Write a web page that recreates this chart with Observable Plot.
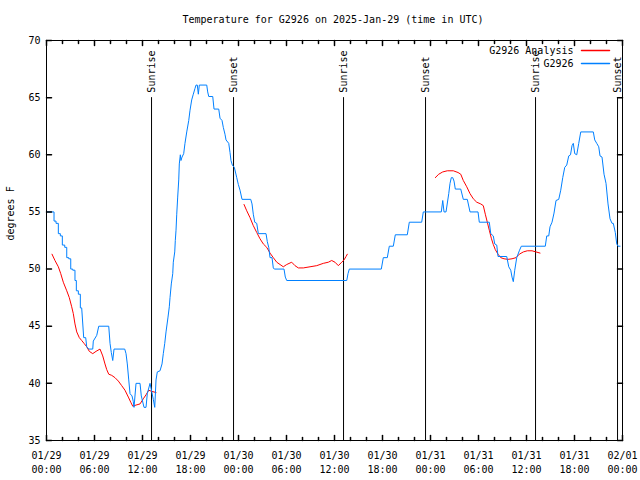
<!DOCTYPE html>
<html><head><meta charset="utf-8">
<script src="https://cdn.jsdelivr.net/npm/d3@7"></script>
<script src="https://cdn.jsdelivr.net/npm/@observablehq/plot@0.6"></script>
<style>body{margin:0;background:#fff} svg{display:block}</style>
</head><body><div id="chart"></div>
<script>
const title = "Temperature for G2926 on 2025-Jan-29 (time in UTC)";
const yLabel = "degrees F";
const seriesNames = ["G2926 Analysis", "G2926"];
const seriesColors = ["#ff0000", "#0080ff"];
const startUTC = Date.UTC(2025, 0, 29);

// [hours since 01/29 00:00 UTC, degrees F]
const station = [[0,55.0],[0.94,55.0],[0.94,54.2],[1.19,54.2],[1.19,54.0],[1.48,54.0],[1.48,53.1],[1.73,53.1],[1.73,52.9],[1.98,52.9],[1.98,52.1],[2.28,52.1],[2.28,51.9],[2.53,51.9],[2.53,51.0],[2.78,51.0],[2.78,50.9],[3.03,50.9],[3.03,50.0],[3.28,50.0],[3.28,49.9],[3.56,49.9],[3.56,49.0],[3.73,49.0],[3.73,48.1],[3.98,48.1],[3.98,47.8],[4.23,47.8],[4.23,46.6],[4.4,46.6],[4.65,44.0],[4.9,44.0],[5.03,43.2],[5.28,43.0],[5.78,43.0],[5.85,43.7],[6.28,44.2],[6.53,45.0],[7.78,45.0],[7.94,43.5],[8.1,42.7],[8.28,42.0],[8.44,43.0],[9.78,43.0],[9.94,42.6],[10.1,41.7],[10.28,40.3],[10.44,39.1],[10.69,38.9],[10.85,38.4],[10.94,37.9],[11.19,40.0],[11.69,40.0],[11.85,38.9],[12.19,37.9],[12.44,37.9],[12.6,39.1],[12.94,40.0],[13.35,38.6],[13.53,37.9],[13.69,40.3],[13.85,41.0],[14.19,41.1],[14.44,41.7],[14.6,42.6],[14.78,43.5],[14.94,44.5],[15.19,45.8],[15.35,46.7],[15.44,47.5],[15.6,48.7],[15.78,49.6],[15.85,50.6],[16.03,51.5],[16.1,52.5],[16.19,53.4],[16.28,54.8],[16.4,56.3],[16.53,57.8],[16.6,59.2],[16.73,60.0],[16.81,59.5],[16.94,59.8],[17.15,60.1],[17.31,61.0],[17.53,62.0],[17.78,63.0],[17.94,63.9],[18.15,64.8],[18.35,65.3],[18.56,65.8],[18.69,66.1],[18.85,66.1],[18.98,65.3],[19.1,66.1],[20.03,66.1],[20.15,65.5],[20.28,65.1],[20.78,65.1],[20.94,64.0],[21.53,64.0],[21.69,63.2],[21.94,63.0],[22.1,62.4],[22.31,61.8],[22.44,61.3],[22.78,61.0],[22.94,60.2],[23.06,59.5],[23.23,59.1],[23.48,58.9],[23.78,58.0],[23.98,57.4],[24.19,56.9],[24.44,56.1],[25.53,56.1],[25.69,55.7],[25.85,54.8],[26.03,54.1],[26.28,54.0],[26.48,53.1],[27.44,53.1],[27.6,52.4],[27.78,51.9],[27.94,51.0],[28.19,51.0],[28.35,50.1],[28.48,50.0],[29.69,50.0],[29.85,49.3],[30.03,49.0],[37.53,49.0],[37.69,49.6],[37.85,50.0],[41.85,50.0],[42.1,51.0],[42.6,51.0],[42.85,52.0],[43.35,52.0],[43.6,53.0],[45.1,53.0],[45.35,54.1],[46.9,54.1],[47.1,55.0],[49.35,55.0],[49.53,56.0],[49.69,55.0],[49.94,55.0],[50.28,56.6],[50.44,57.5],[50.6,58.0],[50.78,58.0],[50.94,57.7],[51.1,57.0],[51.78,57.0],[52.1,56.1],[52.6,56.1],[52.94,55.0],[53.94,55.0],[54.1,54.1],[55.35,54.1],[55.53,53.1],[55.85,52.9],[56.03,52.2],[56.28,52.1],[56.44,51.1],[57.53,51.1],[57.78,50.2],[58.03,49.9],[58.19,49.3],[58.35,48.9],[58.53,49.9],[58.78,51.0],[59.1,51.6],[59.35,52.0],[62.35,52.0],[62.53,52.9],[62.78,52.9],[62.94,53.7],[63.19,54.1],[63.44,54.9],[63.69,56.0],[64.03,56.1],[64.28,56.9],[64.53,58.0],[64.78,58.9],[65.03,59.1],[65.28,59.9],[65.5,60.0],[65.69,60.8],[65.85,61.0],[66.03,60.1],[66.28,60.0],[66.53,61.0],[66.78,62.0],[68.35,62.0],[68.53,61.3],[68.78,61.0],[69.03,60.7],[69.19,59.9],[69.44,59.8],[69.69,58.3],[69.94,57.5],[70.19,55.7],[70.44,54.4],[70.69,54.0],[70.85,54.0],[71.1,53.2],[71.28,52.2],[71.44,52.0],[71.69,52.0]];

const analysis1 = [[0.69,51.3],[1.06,50.75],[1.48,50.2],[1.78,49.6],[2.1,48.85],[2.53,48.1],[2.85,47.5],[3.15,46.7],[3.35,46.1],[3.56,45.2],[3.78,44.5],[4.1,44.0],[4.4,43.75],[4.69,43.5],[5.03,43.2],[5.35,42.8],[5.78,42.6],[6.19,42.8],[6.69,43.0],[7.03,42.4],[7.31,41.7],[7.53,41.2],[7.78,40.8],[8.15,40.7],[8.56,40.5],[8.98,40.2],[9.4,39.8],[9.81,39.4],[10.23,38.8],[10.53,38.35],[10.78,38.0],[11.19,38.1],[11.69,38.2],[12.1,38.65],[12.44,39.0],[12.78,39.4],[13.15,39.3],[13.69,39.2]];
const analysis2 = [[24.69,55.65],[25.03,55.1],[25.44,54.5],[25.85,53.8],[26.28,53.2],[26.69,52.65],[27.1,52.2],[27.53,51.9],[27.94,51.4],[28.35,51.0],[28.78,50.6],[29.19,50.4],[29.6,50.2],[30.03,50.4],[30.65,50.6],[31.06,50.3],[31.48,50.1],[32.1,50.1],[32.94,50.2],[33.78,50.3],[34.6,50.5],[35.23,50.6],[35.65,50.75],[36.06,50.6],[36.48,50.3],[36.9,50.6],[37.19,50.8],[37.44,51.1],[37.6,51.3]];
const analysis3 = [[48.6,58.0],[49.03,58.3],[49.53,58.5],[50.1,58.6],[50.85,58.6],[51.44,58.45],[51.78,58.3],[52.1,57.75],[52.53,57.2],[52.94,56.6],[53.35,56.15],[53.78,55.85],[54.28,55.7],[54.6,55.55],[54.85,54.8],[55.1,54.1],[55.35,53.4],[55.6,52.7],[55.85,52.15],[56.1,51.7],[56.44,51.3],[56.78,51.0],[57.19,50.9],[57.69,50.85],[58.19,50.9],[58.69,51.0],[59.1,51.3],[59.6,51.5],[60.1,51.6],[60.69,51.6],[61.19,51.5],[61.69,51.4]];

// sun events: [label, hours since start]
const sunEvents = [["Sunrise",13.13],["Sunset",23.38],["Sunrise",37.13],["Sunset",47.38],["Sunrise",61.13],["Sunset",71.38]];

const xLabelHours = [0,6,12,18,24,30,36,42,48,54,60,66,72];
const xTickHours = d3.range(0, 73, 2);
const yTicks = [35,40,45,50,55,60,65,70];

const toDate = h => new Date(startUTC + h * 3600e3);
const pts = arr => arr.map(([h, v]) => ({t: toDate(h), v}));
const fmt = d3.utcFormat("%m/%d\n%H:%M");
const tickShape = {draw(ctx, l) { ctx.moveTo(0, 0); ctx.lineTo(0, -l); }};
const F = "DejaVu Sans Mono";
const fs = 10;

const minorDates = xTickHours.filter(h => h % 6 !== 0).map(toDate);
const majorDates = xLabelHours.map(toDate);

const chart = Plot.plot({
  width: 640, height: 480,
  marginLeft: 46, marginRight: 18, marginTop: 40, marginBottom: 40,
  style: {fontFamily: F, fontSize: fs + "px", background: "#fff"},
  x: {type: "utc", domain: [toDate(0), toDate(72)], label: null},
  y: {domain: [35, 70], label: null},
  marks: [
    Plot.ruleX(sunEvents, {x: d => toDate(d[1]), y1: 35, y2: 65, stroke: "black", strokeWidth: 1}),
    Plot.text(sunEvents, {x: d => toDate(d[1]), y: 65, text: d => d[0], rotate: -90, textAnchor: "start", dy: -5, fontSize: fs, fontFamily: F, fill: "black"}),
    ...[analysis1, analysis2, analysis3].map(seg => Plot.line(pts(seg), {x: "t", y: "v", stroke: seriesColors[0], strokeWidth: 1})),
    Plot.line(pts(station), {x: "t", y: "v", stroke: seriesColors[1], strokeWidth: 1}),
    Plot.frame({stroke: "black"}),
    Plot.axisX(majorDates, {tickSize: 0, tickPadding: 9, tickFormat: fmt, lineHeight: 1.4, fontSize: fs, fontFamily: F, label: null}),
    Plot.axisY(yTicks, {tickSize: 0, tickPadding: 6, fontSize: fs, fontFamily: F, label: null}),
    Plot.vector(majorDates, {x: d => d, frameAnchor: "bottom", length: 5, rotate: 0, anchor: "start", shape: tickShape, stroke: "black"}),
    Plot.vector(minorDates, {x: d => d, frameAnchor: "bottom", length: 3, rotate: 0, anchor: "start", shape: tickShape, stroke: "black"}),
    Plot.vector(majorDates, {x: d => d, frameAnchor: "top", length: 5, rotate: 180, anchor: "start", shape: tickShape, stroke: "black"}),
    Plot.vector(minorDates, {x: d => d, frameAnchor: "top", length: 3, rotate: 180, anchor: "start", shape: tickShape, stroke: "black"}),
    Plot.vector(yTicks, {y: d => d, frameAnchor: "left", length: 5, rotate: 90, anchor: "start", shape: tickShape, stroke: "black"}),
    Plot.vector(yTicks, {y: d => d, frameAnchor: "right", length: 5, rotate: -90, anchor: "start", shape: tickShape, stroke: "black"}),
    Plot.text([title], {frameAnchor: "top", lineAnchor: "middle", dy: -21, dx: -1.5, fontSize: fs, fontFamily: F, fill: "black"}),
    Plot.text([yLabel], {frameAnchor: "left", dx: -36, rotate: -90, fontSize: fs, fontFamily: F, fill: "black"}),
    Plot.text([seriesNames[0]], {frameAnchor: "top-right", lineAnchor: "middle", dx: -49, dy: 10, textAnchor: "end", fontSize: fs, fontFamily: F, fill: "black"}),
    Plot.text([seriesNames[1]], {frameAnchor: "top-right", lineAnchor: "middle", dx: -49, dy: 23, textAnchor: "end", fontSize: fs, fontFamily: F, fill: "black"}),
    Plot.vector([seriesNames[0]], {frameAnchor: "top-right", dx: -41, dy: 10, length: 28, rotate: 90, anchor: "start", shape: tickShape, stroke: seriesColors[0]}),
    Plot.vector([seriesNames[1]], {frameAnchor: "top-right", dx: -41, dy: 23, length: 28, rotate: 90, anchor: "start", shape: tickShape, stroke: seriesColors[1]})
  ]
});
document.getElementById("chart").append(chart);
</script>
</body></html>
